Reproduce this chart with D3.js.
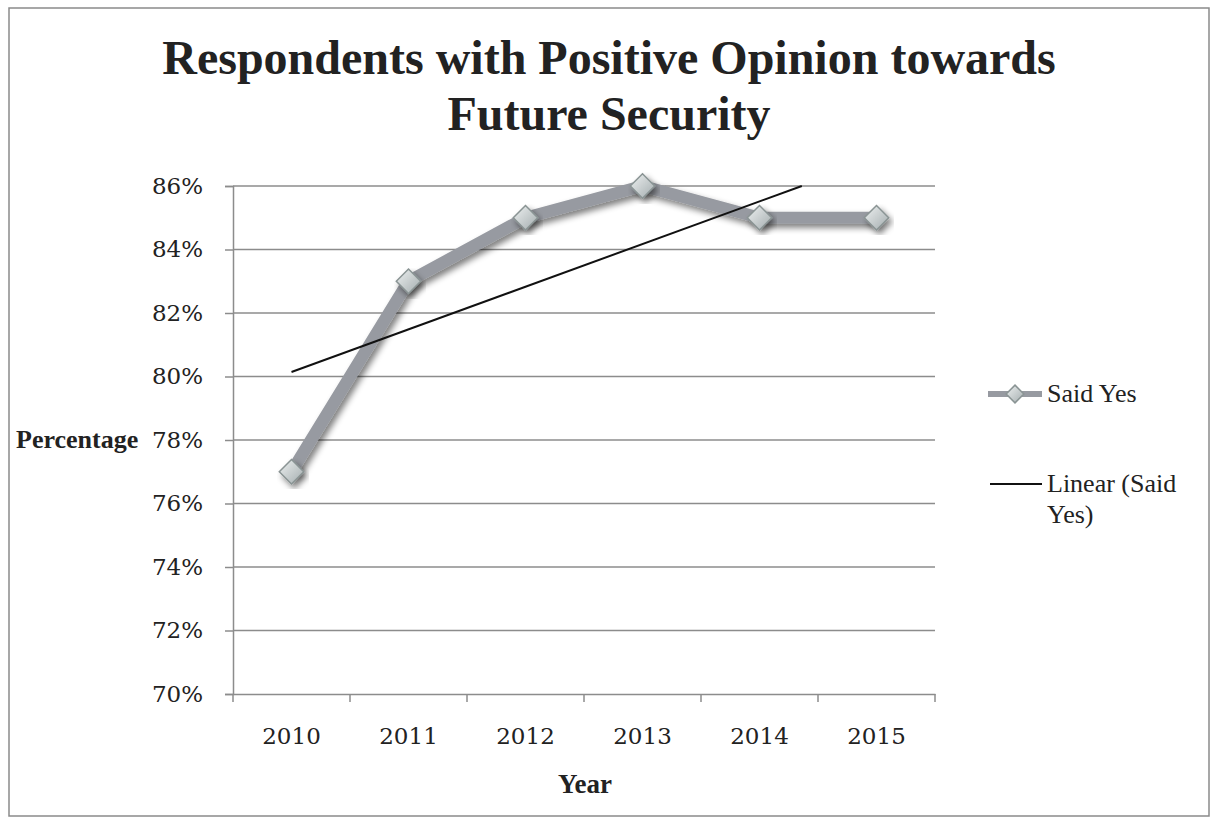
<!DOCTYPE html>
<html>
<head>
<meta charset="utf-8">
<script src="https://cdn.jsdelivr.net/npm/d3@7"></script>
<style>
  body { margin: 0; background: #fff; }
  text { fill: #222; }
</style>
</head>
<body>
<svg id="chart" width="1211" height="819"></svg>
<script>
/* chart data */
const years = ['2010', '2011', '2012', '2013', '2014', '2015']
const saidYes = [77, 83, 85, 86, 85, 85]
const yTicks = [70, 72, 74, 76, 78, 80, 82, 84, 86]
const titleLines = ['Respondents with Positive Opinion towards', 'Future Security']

/* fonts */
const serif = "'Liberation Serif', 'Times New Roman', serif"
const tickFont = "'DejaVu Serif', serif"

/* plot area */
const margin = { top: 186, left: 233, right: 276, bottom: 125 }
const W = 1211, H = 819
const svg = d3.select('#chart')

const x = d3.scaleBand().domain(years).range([margin.left, W - margin.right])
const y = d3.scaleLinear().domain([70, 86]).range([H - margin.bottom, margin.top])
const cx = (d) => x(d) + x.bandwidth() / 2

/* outer border */
svg.append('rect')
  .attr('x', 9).attr('y', 8).attr('width', 1200).attr('height', 808)
  .attr('fill', '#fff').attr('stroke', '#8a8a8a').attr('stroke-width', 1.5)

/* defs: shadow and marker gradient */
const defs = svg.append('defs')
const shadow = defs.append('filter').attr('id', 'shadow')
  .attr('x', '-20%').attr('y', '-20%').attr('width', '140%').attr('height', '140%')
shadow.append('feGaussianBlur').attr('in', 'SourceAlpha').attr('stdDeviation', 3).attr('result', 'b')
shadow.append('feOffset').attr('in', 'b').attr('dx', 3).attr('dy', 4).attr('result', 'o')
shadow.append('feComponentTransfer').attr('in', 'o').attr('result', 's')
  .append('feFuncA').attr('type', 'linear').attr('slope', 0.5)
const merge = shadow.append('feMerge')
merge.append('feMergeNode').attr('in', 's')
merge.append('feMergeNode').attr('in', 'SourceGraphic')

const grad = defs.append('linearGradient').attr('id', 'mk')
  .attr('x1', 0).attr('y1', 0).attr('x2', 1).attr('y2', 1)
grad.append('stop').attr('offset', '0%').attr('stop-color', '#eef1f1')
grad.append('stop').attr('offset', '100%').attr('stop-color', '#a3acae')

/* gridlines */
svg.append('g')
  .selectAll('line')
  .data(yTicks.filter((d) => d > 70))
  .join('line')
  .attr('x1', margin.left).attr('x2', W - margin.right)
  .attr('y1', (d) => y(d)).attr('y2', (d) => y(d))
  .attr('stroke', '#8c8c8c').attr('stroke-width', 1.5)

/* y axis */
const yAxis = svg.append('g')
  .attr('transform', `translate(${margin.left},0)`)
  .call(d3.axisLeft(y).tickValues(yTicks).tickFormat((d) => d + '%').tickSize(8).tickPadding(22))
yAxis.select('.domain').attr('stroke', '#8c8c8c').attr('stroke-width', 1.5)
yAxis.selectAll('.tick line').attr('stroke', '#8c8c8c').attr('stroke-width', 1.5)
yAxis.selectAll('text')
  .style('font-family', tickFont).style('font-size', '23px').attr('fill', '#333')

/* x axis */
const xAxis = svg.append('g')
  .attr('transform', `translate(0,${H - margin.bottom})`)
  .call(d3.axisBottom(x).tickSize(0).tickPadding(34))
xAxis.select('.domain').attr('stroke', '#8c8c8c').attr('stroke-width', 1.5)
xAxis.selectAll('text')
  .style('font-family', tickFont).style('font-size', '23px').attr('fill', '#333')
/* category boundary ticks */
xAxis.selectAll('.bound')
  .data(years.concat(['end']))
  .join('line')
  .attr('x1', (d, i) => margin.left + i * x.bandwidth())
  .attr('x2', (d, i) => margin.left + i * x.bandwidth())
  .attr('y1', 0).attr('y2', 8)
  .attr('stroke', '#8c8c8c').attr('stroke-width', 1.5)

/* series line */
const line = d3.line().x((d, i) => cx(years[i])).y((d) => y(d))
svg.append('path')
  .datum(saidYes)
  .attr('d', line)
  .attr('fill', 'none')
  .attr('stroke', '#979aa1')
  .attr('stroke-width', 12)
  .attr('stroke-linejoin', 'round')
  .attr('filter', 'url(#shadow)')

/* markers */
const diamond = d3.symbol().type(d3.symbolDiamond2).size(380)
svg.append('g')
  .selectAll('path')
  .data(saidYes)
  .join('path')
  .attr('d', diamond)
  .attr('transform', (d, i) => `translate(${cx(years[i])},${y(d)})`)
  .attr('fill', 'url(#mk)')
  .attr('stroke', '#8a9494').attr('stroke-width', 1.5)
  .attr('filter', 'url(#shadow)')

/* linear trendline computed from the series, clipped at plot area */
const xi = years.map((d, i) => i + 1)
const mx = d3.mean(xi), my = d3.mean(saidYes)
const slope = d3.sum(xi, (d, i) => (d - mx) * (saidYes[i] - my)) / d3.sum(xi, (d) => (d - mx) ** 2)
const icpt = my - slope * mx
const xIdx = d3.scaleLinear().domain([1, 6]).range([cx('2010'), cx('2015')])
let endI = 6
if (icpt + slope * endI > 86) endI = (86 - icpt) / slope
svg.append('line')
  .attr('x1', xIdx(1)).attr('y1', y(icpt + slope))
  .attr('x2', xIdx(endI)).attr('y2', y(icpt + slope * endI))
  .attr('stroke', '#111').attr('stroke-width', 2)

/* title */
svg.append('g')
  .selectAll('text')
  .data(titleLines)
  .join('text')
  .attr('x', 609).attr('y', (d, i) => 74 + i * 56)
  .attr('text-anchor', 'middle')
  .style('font-family', serif).style('font-weight', 'bold').style('font-size', '48px')
  .text((d) => d)

/* axis titles */
svg.append('text')
  .attr('x', 16).attr('y', 448)
  .style('font-family', serif).style('font-weight', 'bold').style('font-size', '26px')
  .text('Percentage')
svg.append('text')
  .attr('x', 585).attr('y', 793).attr('text-anchor', 'middle')
  .style('font-family', serif).style('font-weight', 'bold').style('font-size', '27px')
  .text('Year')

/* legend */
const lg = svg.append('g')
lg.append('line')
  .attr('x1', 988).attr('x2', 1042).attr('y1', 394).attr('y2', 394)
  .attr('stroke', '#979aa1').attr('stroke-width', 6)
lg.append('path')
  .attr('d', d3.symbol().type(d3.symbolDiamond2).size(200))
  .attr('transform', 'translate(1015,394)')
  .attr('fill', 'url(#mk)').attr('stroke', '#8a9494').attr('stroke-width', 1.5)
lg.append('text')
  .attr('x', 1047).attr('y', 402)
  .style('font-family', serif).style('font-size', '26px')
  .text('Said Yes')
lg.append('line')
  .attr('x1', 990).attr('x2', 1042).attr('y1', 484).attr('y2', 484)
  .attr('stroke', '#111').attr('stroke-width', 2)
lg.append('text')
  .attr('x', 1047).attr('y', 492)
  .style('font-family', serif).style('font-size', '26px')
  .text('Linear (Said')
lg.append('text')
  .attr('x', 1047).attr('y', 523)
  .style('font-family', serif).style('font-size', '26px')
  .text('Yes)')
</script>
</body>
</html>
